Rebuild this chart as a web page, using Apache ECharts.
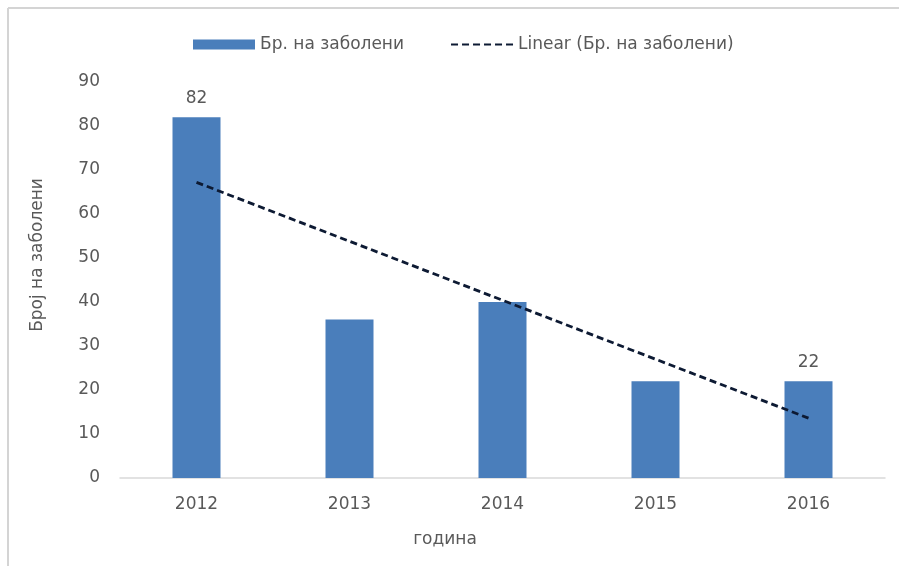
<!DOCTYPE html>
<html>
<head>
<meta charset="utf-8">
<script src="https://cdn.jsdelivr.net/npm/echarts@6/dist/echarts.min.js"></script>
<style>
html,body{margin:0;padding:0;background:#fff;}
#chart{width:899px;height:566px;}
</style>
</head>
<body>
<div id="chart"></div>
<script>
const categories = ['2012', '2013', '2014', '2015', '2016'];
const cases = [82, 36, 40, 22, 22];
const trend = [67.2, 53.8, 40.4, 27.0, 13.6];
const labelledYears = ['2012', '2016'];
const seriesName = 'Бр. на заболени';
const trendName = 'Linear (Бр. на заболени)';
const yTitle = 'Број на заболени';
const xTitle = 'година';

const FONT = '"DejaVu Sans", "Noto Sans", sans-serif';
const TXT = '#595959';

const chart = echarts.init(document.getElementById('chart'), null, {renderer: 'canvas'});
chart.setOption({
  animation: false,
  backgroundColor: '#ffffff',
  textStyle: {fontFamily: FONT},
  grid: {left: 120, right: 14, top: 82, bottom: 88, containLabel: false},
  legend: {
    top: 31,
    left: 188,
    itemGap: 46,
    itemWidth: 62,
    itemHeight: 10,
    textStyle: {color: TXT, fontSize: 17, fontFamily: FONT},
    data: [
      {name: seriesName, icon: 'rect'},
      {name: trendName, itemStyle: {opacity: 0}}
    ]
  },
  xAxis: {
    type: 'category',
    data: categories,
    axisLine: {lineStyle: {color: '#d9d9d9', width: 1.5}},
    axisTick: {show: false},
    axisLabel: {color: TXT, fontSize: 17, margin: 18, fontFamily: FONT}
  },
  yAxis: {
    type: 'value',
    min: 0,
    max: 90,
    interval: 10,
    splitLine: {show: false},
    axisLine: {show: false},
    axisTick: {show: false},
    axisLabel: {color: TXT, fontSize: 17, margin: 20, fontFamily: FONT}
  },
  series: [
    {
      name: seriesName,
      type: 'bar',
      data: cases.map((v, i) => ({
        value: v,
        label: {show: labelledYears.includes(categories[i])}
      })),
      barWidth: 48,
      itemStyle: {color: '#4a7ebb'},
      label: {position: 'top', color: TXT, fontSize: 17, distance: 10, fontFamily: FONT}
    },
    {
      name: trendName,
      type: 'line',
      data: trend,
      symbol: 'none',
      lineStyle: {color: '#0d1a33', width: 2.8, type: [7, 4]},
      itemStyle: {color: '#0d1a33'},
      z: 5
    }
  ],
  graphic: [
    {type: 'line', shape: {x1: 8, y1: 8, x2: 899, y2: 8}, style: {stroke: '#d4d4d4', lineWidth: 2}},
    {type: 'line', shape: {x1: 8, y1: 8, x2: 8, y2: 566}, style: {stroke: '#d4d4d4', lineWidth: 2}},
    {
      type: 'text', x: 38, y: 255, rotation: Math.PI / 2,
      style: {text: yTitle, fill: TXT, font: '17px ' + FONT, textAlign: 'center', textVerticalAlign: 'middle'}
    },
    {
      type: 'text', x: 445, y: 540,
      style: {text: xTitle, fill: TXT, font: '17px ' + FONT, textAlign: 'center', textVerticalAlign: 'middle'}
    }
  ]
});
</script>
</body>
</html>
